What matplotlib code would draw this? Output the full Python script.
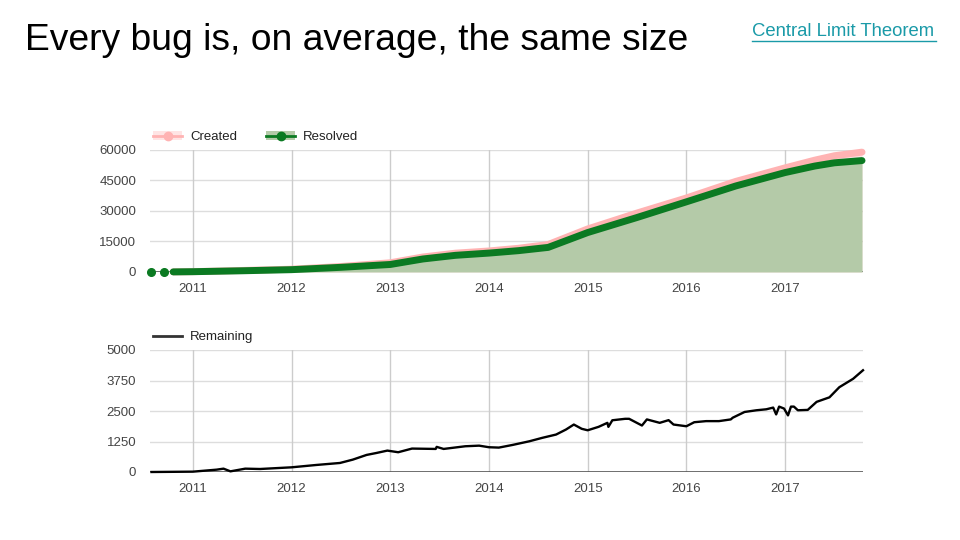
import numpy as np
import matplotlib.pyplot as plt
from matplotlib.lines import Line2D
from matplotlib.patches import Patch

plt.rcParams['font.family'] = ['Liberation Sans', 'DejaVu Sans']

# cumulative issues (fractional year)
years = [2010.58, 2010.71, 2010.80, 2011.0, 2011.5, 2012.0, 2012.5, 2013.0,
         2013.33, 2013.66, 2014.0, 2014.3, 2014.6, 2015.0, 2015.5, 2016.0,
         2016.5, 2017.0, 2017.3, 2017.5, 2017.78]
resolved = [0, 0, 50, 150, 600, 1150, 2300, 3700, 6400, 8200, 9300, 10500,
            12100, 19400, 26800, 34500, 42300, 48900, 52100, 53700, 54800]
created = [0, 0, 50, 175, 760, 1380, 2710, 4540, 7380, 9260, 10350, 11670,
           13530, 21170, 29000, 36400, 44550, 51210, 54990, 57170, 58950]

# open issues
rem_years = [2010.58, 2011.0, 2011.24, 2011.31, 2011.38, 2011.53, 2011.68, 2012.0,
             2012.25, 2012.49, 2012.62, 2012.76, 2012.86, 2012.97, 2013.08, 2013.22,
             2013.46, 2013.47, 2013.54, 2013.76, 2013.90, 2014.0, 2014.10, 2014.24,
             2014.41, 2014.54, 2014.68, 2014.78, 2014.86, 2014.94, 2015.0, 2015.11,
             2015.20, 2015.21, 2015.25, 2015.38, 2015.42, 2015.55, 2015.60, 2015.73,
             2015.82, 2015.87, 2016.0, 2016.08, 2016.20, 2016.33, 2016.45, 2016.47,
             2016.59, 2016.71, 2016.81, 2016.88, 2016.91, 2016.94, 2016.99, 2017.03,
             2017.06, 2017.09, 2017.13, 2017.23, 2017.32, 2017.45, 2017.55, 2017.69,
             2017.79]
remaining = [0, 14, 96, 137, 27, 137, 123, 192,
             288, 370, 507, 700, 780, 877, 810, 960,
             945, 1030, 945, 1055, 1080, 1015, 1000, 1110,
             1260, 1400, 1535, 1740, 1945, 1770, 1710, 1850,
             2015, 1850, 2120, 2180, 2180, 1905, 2155, 2015,
             2125, 1945, 1875, 2040, 2085, 2085, 2155, 2225,
             2460, 2530, 2570, 2640, 2360, 2680, 2600, 2320,
             2680, 2680, 2530, 2545, 2875, 3060, 3475, 3820,
             4170]

year_ticks = [2011, 2012, 2013, 2014, 2015, 2016, 2017]
top_yticks = [0, 15000, 30000, 45000, 60000]
bot_yticks = [0, 1250, 2500, 3750, 5000]

pink = '#ffb3b3'
green = '#0b7a22'
xlim = (2010.565, 2017.79)

fig = plt.figure(figsize=(9.6, 5.4), dpi=100)

fig.text(25 / 960, 1 - 40 / 540, 'Every bug is, on average, the same size',
         fontsize=26.8, color='black', va='center', ha='left')
fig.text(752 / 960, 1 - 32 / 540, 'Central Limit Theorem', fontsize=13.3,
         color='#1a9aa8', va='center', ha='left')
fig.add_artist(Line2D([752 / 960, 936 / 960], [1 - 41 / 540, 1 - 41 / 540],
                      color='#1a9aa8', lw=1))


def style_axes(ax, yticks):
    ax.set_xlim(*xlim)
    ax.set_ylim(yticks[0], yticks[-1])
    ax.set_xticks(year_ticks)
    ax.set_xticklabels([str(y) for y in year_ticks])
    ax.set_yticks(yticks)
    ax.set_yticklabels([str(v) for v in yticks])
    ax.tick_params(length=0, labelsize=9.5, colors='#444444', pad=8)
    ax.tick_params(axis='y', pad=10)
    for s in ax.spines.values():
        s.set_visible(False)
    for y in yticks[1:]:
        ax.axhline(y, color='#dddddd', lw=1, zorder=0)
    for x in year_ticks:
        ax.axvline(x, color='#cccccc', lw=1, zorder=0)
    ax.axhline(yticks[0], color='#555555', lw=1.2, zorder=1)


# top: created / resolved
ax1 = fig.add_axes([150 / 960, 1 - 272 / 540, 713 / 960, 122 / 540])
ax1.fill_between(years, created, color=pink, alpha=0.35, lw=0, zorder=1)
ax1.fill_between(years, resolved, color='#b4caa8', lw=0, zorder=2)
ax1.plot(years[2:], created[2:], color=pink, lw=5, solid_capstyle='round',
         zorder=3, clip_on=False)
ax1.plot(years[2:], resolved[2:], color=green, lw=5, solid_capstyle='round',
         zorder=4, clip_on=False)
ax1.plot(years[:2], resolved[:2], 'o', color=green, ms=5.5, zorder=4, clip_on=False)
ax1.set_axisbelow(True)
style_axes(ax1, top_yticks)

h_created = (Patch(color=pink, alpha=0.35, lw=0),
             Line2D([], [], color=pink, lw=2, marker='o', ms=6))
h_resolved = (Patch(color='#b4caa8', lw=0),
              Line2D([], [], color=green, lw=2, marker='o', ms=6))
ax1.legend([h_created, h_resolved], ['Created', 'Resolved'], loc='lower left',
           bbox_to_anchor=(-0.005, 1.0), ncol=2, frameon=False, fontsize=9.5,
           handlelength=2.2, handletextpad=0.6, columnspacing=2.2,
           borderaxespad=0.1, labelcolor='#222222')

# bottom: remaining
ax2 = fig.add_axes([150 / 960, 1 - 472 / 540, 713 / 960, 122 / 540])
ax2.plot(rem_years, remaining, color='black', lw=1.7, zorder=3, clip_on=False)
style_axes(ax2, bot_yticks)
ax2.legend([Line2D([], [], color='#333333', lw=2)], ['Remaining'],
           loc='lower left', bbox_to_anchor=(-0.005, 1.0), frameon=False,
           fontsize=9.5, handlelength=2.2, handletextpad=0.6,
           borderaxespad=0.1, labelcolor='#222222')

fig.savefig('out.png', dpi=100)
